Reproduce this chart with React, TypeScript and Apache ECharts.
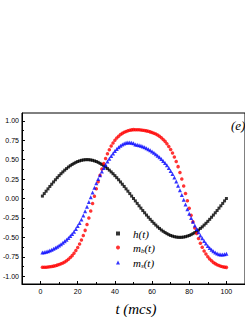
import React, { useEffect, useRef } from "react";
import * as echarts from "echarts";

const T_VALUES: number[] = Array.from({ length: 100 }, (_, i) => i + 1);

const H_VALUES: number[] = [
  0.031, 0.063, 0.094, 0.124, 0.155, 0.184, 0.213, 0.241, 0.268, 0.294,
  0.319, 0.342, 0.365, 0.385, 0.405, 0.422, 0.438, 0.452, 0.465, 0.476,
  0.484, 0.491, 0.496, 0.499, 0.5, 0.499, 0.496, 0.491, 0.484, 0.476,
  0.465, 0.452, 0.438, 0.422, 0.405, 0.385, 0.365, 0.342, 0.319, 0.294,
  0.268, 0.241, 0.213, 0.184, 0.155, 0.124, 0.094, 0.063, 0.031, 0.0,
  -0.031, -0.063, -0.094, -0.124, -0.155, -0.184, -0.213, -0.241, -0.268, -0.294,
  -0.319, -0.342, -0.365, -0.385, -0.405, -0.422, -0.438, -0.452, -0.465, -0.476,
  -0.484, -0.491, -0.496, -0.499, -0.5, -0.499, -0.496, -0.491, -0.484, -0.476,
  -0.465, -0.452, -0.438, -0.422, -0.405, -0.385, -0.365, -0.342, -0.319, -0.294,
  -0.268, -0.241, -0.213, -0.184, -0.155, -0.124, -0.094, -0.063, -0.031, 0.0,
];

const MB_VALUES: number[] = [
  -0.885, -0.885, -0.884, -0.882, -0.879, -0.875, -0.87, -0.864, -0.857, -0.849,
  -0.84, -0.829, -0.816, -0.8, -0.782, -0.76, -0.735, -0.705, -0.67, -0.63,
  -0.585, -0.535, -0.475, -0.41, -0.335, -0.25, -0.16, -0.065, 0.03, 0.125,
  0.215, 0.3, 0.38, 0.45, 0.515, 0.575, 0.628, 0.675, 0.715, 0.75,
  0.778, 0.802, 0.822, 0.838, 0.851, 0.862, 0.871, 0.878, 0.883, 0.886,
  0.885, 0.885, 0.884, 0.882, 0.879, 0.875, 0.87, 0.864, 0.857, 0.849,
  0.84, 0.829, 0.816, 0.8, 0.782, 0.76, 0.735, 0.705, 0.67, 0.63,
  0.585, 0.535, 0.475, 0.41, 0.335, 0.25, 0.16, 0.065, -0.03, -0.125,
  -0.215, -0.3, -0.38, -0.45, -0.515, -0.575, -0.628, -0.675, -0.715, -0.75,
  -0.778, -0.802, -0.822, -0.838, -0.851, -0.862, -0.871, -0.878, -0.883, -0.886,
];

const MS_VALUES: number[] = [
  -0.695, -0.69, -0.685, -0.678, -0.67, -0.66, -0.648, -0.635, -0.62, -0.605,
  -0.588, -0.57, -0.55, -0.53, -0.508, -0.484, -0.457, -0.428, -0.393, -0.355,
  -0.315, -0.27, -0.22, -0.165, -0.105, -0.045, 0.017, 0.078, 0.138, 0.196,
  0.25, 0.3, 0.348, 0.393, 0.435, 0.475, 0.512, 0.547, 0.58, 0.61,
  0.637, 0.66, 0.68, 0.696, 0.708, 0.716, 0.72, 0.72, 0.717, 0.711,
  0.695, 0.69, 0.685, 0.678, 0.67, 0.66, 0.648, 0.635, 0.62, 0.605,
  0.588, 0.57, 0.55, 0.53, 0.508, 0.484, 0.457, 0.428, 0.393, 0.355,
  0.315, 0.27, 0.22, 0.165, 0.105, 0.045, -0.017, -0.078, -0.138, -0.196,
  -0.25, -0.3, -0.348, -0.393, -0.435, -0.475, -0.512, -0.547, -0.58, -0.61,
  -0.637, -0.66, -0.68, -0.696, -0.708, -0.716, -0.72, -0.72, -0.717, -0.711,
];

const X_MAJOR: number[] = [0, 20, 40, 60, 80, 100];
const X_MINOR: number[] = [10, 30, 50, 70, 90];
const Y_MAJOR: number[] = [-1, -0.75, -0.5, -0.25, 0, 0.25, 0.5, 0.75, 1];
const Y_MINOR: number[] = [-0.875, -0.625, -0.375, -0.125, 0.125, 0.375, 0.625, 0.875];

const SERIES_NAMES = ["h(t)", "m_b(t)", "m_s(t)"];

const App: React.FC = () => {
  const ref = useRef<HTMLDivElement>(null);

  useEffect(() => {
    if (!ref.current) return;
    const chart = echarts.init(ref.current, undefined, { renderer: "svg" });
    const pair = (vals: number[]) => T_VALUES.map((t, i) => [t, vals[i]]);
    const labelFont = { fontFamily: "Liberation Sans", fontSize: 7, color: "#000" };
    const serifI = { fontFamily: "Liberation Serif", fontStyle: "italic", color: "#000" };

    chart.setOption({
      animation: false,
      grid: {
        left: 21,
        top: 113,
        width: 231,
        height: 171,
        show: true,
        borderColor: "#000",
        borderWidth: 1,
        backgroundColor: "transparent",
      },
      xAxis: [
        {
          type: "value",
          min: -10,
          max: 110,
          position: "bottom",
          axisLine: { show: true, onZero: false, lineStyle: { color: "#000", width: 1 } },
          axisTick: { show: true, inside: true, length: 3, customValues: X_MAJOR, lineStyle: { color: "#000" } },
          axisLabel: { customValues: X_MAJOR, margin: 4, ...labelFont },
          splitLine: { show: false },
        },
        {
          type: "value",
          min: -10,
          max: 110,
          position: "bottom",
          axisLine: { show: false, onZero: false },
          axisTick: { show: true, inside: true, length: 2, customValues: X_MINOR, lineStyle: { color: "#000" } },
          axisLabel: { show: false },
          splitLine: { show: false },
        },
      ],
      yAxis: [
        {
          type: "value",
          min: -1.1,
          max: 1.1,
          position: "left",
          axisLine: { show: true, onZero: false, lineStyle: { color: "#000", width: 1 } },
          axisTick: { show: true, inside: true, length: 3, customValues: Y_MAJOR, lineStyle: { color: "#000" } },
          axisLabel: {
            customValues: Y_MAJOR,
            margin: 3,
            formatter: (v: number) => v.toFixed(2),
            ...labelFont,
          },
          splitLine: { show: false },
        },
        {
          type: "value",
          min: -1.1,
          max: 1.1,
          position: "left",
          axisLine: { show: false, onZero: false },
          axisTick: { show: true, inside: true, length: 2, customValues: Y_MINOR, lineStyle: { color: "#000" } },
          axisLabel: { show: false },
          splitLine: { show: false },
        },
      ],
      legend: {
        orient: "vertical",
        left: 111,
        top: 223,
        itemWidth: 4,
        itemHeight: 4,
        itemGap: 3,
        data: SERIES_NAMES,
        formatter: (name: string) => {
          if (name === "m_b(t)") return "{f|m}{sub|b}{i|(t)}";
          if (name === "m_s(t)") return "{f|m}{sub|s}{i|(t)}";
          return "{f|h(t)}";
        },
        textStyle: {
          ...serifI,
          fontSize: 11,
          rich: {
            f: { ...serifI, fontSize: 11, padding: [0, 0, 0, 8] },
            i: { ...serifI, fontSize: 11 },
            sub: { ...serifI, fontSize: 7, padding: [6, 0, 0, 0] },
          },
        },
      },
      graphic: [
        {
          type: "text",
          left: 231,
          top: 119,
          style: {
            text: "(e)",
            fontFamily: "Liberation Serif",
            fontStyle: "italic",
            fontSize: 13,
            fill: "#000",
          },
        },
        {
          type: "text",
          x: 136,
          y: 309,
          style: {
            text: "t (mcs)",
            fontFamily: "Liberation Serif",
            fontStyle: "italic",
            fontSize: 15,
            fill: "#000",
            align: "center",
            verticalAlign: "middle",
          },
        },
      ],
      series: [
        {
          name: SERIES_NAMES[0],
          type: "scatter",
          xAxisIndex: 0,
          yAxisIndex: 0,
          symbol: "rect",
          symbolSize: 3,
          itemStyle: { color: "#000" },
          data: pair(H_VALUES),
        },
        {
          name: SERIES_NAMES[1],
          type: "scatter",
          xAxisIndex: 0,
          yAxisIndex: 0,
          symbol: "circle",
          symbolSize: 3.5,
          itemStyle: { color: "#ff0000" },
          data: pair(MB_VALUES),
        },
        {
          name: SERIES_NAMES[2],
          type: "scatter",
          xAxisIndex: 0,
          yAxisIndex: 0,
          symbol: "triangle",
          symbolSize: 4,
          itemStyle: { color: "#0000ff" },
          data: pair(MS_VALUES),
        },
      ],
    });

    return () => chart.dispose();
  }, []);

  return (
    <div
      ref={ref}
      style={{ position: "fixed", left: 0, top: 0, width: 245, height: 317, background: "#fff" }}
    />
  );
};

export default App;
